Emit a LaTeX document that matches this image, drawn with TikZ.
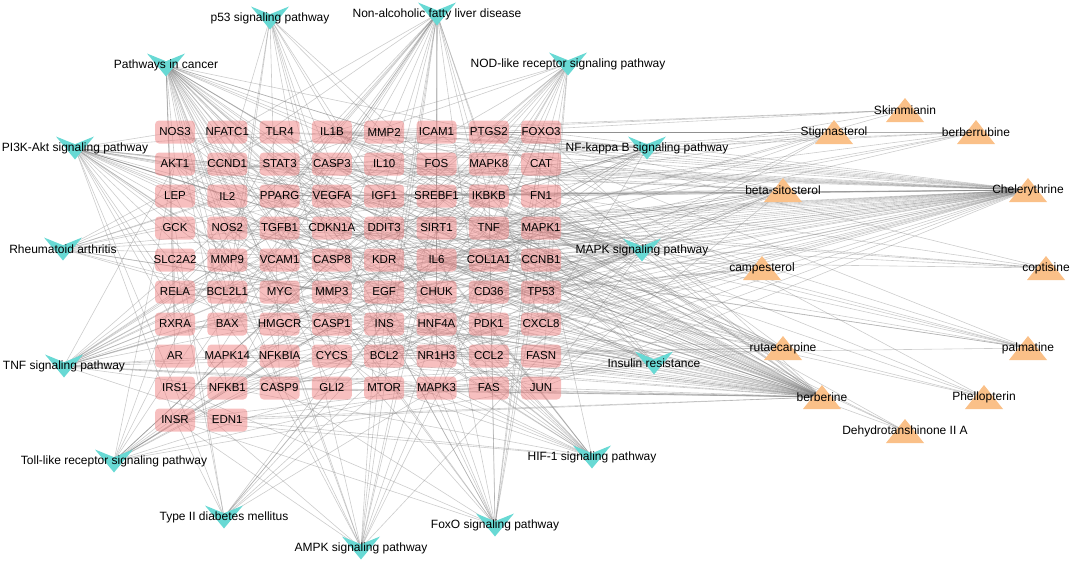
\documentclass[tikz,border=0pt]{standalone}
\usepackage{fontspec}
\setmainfont{Liberation Sans}
\usetikzlibrary{positioning}
\definecolor{genepink}{RGB}{240,128,128}
\definecolor{veecyan}{RGB}{104,217,212}
\definecolor{triorange}{RGB}{250,192,136}
\pgfdeclarelayer{edges}
\pgfdeclarelayer{marks}
\pgfsetlayers{edges,marks,main}

\begin{document}
\begin{tikzpicture}[x=1pt,y=-1pt,
    gene/.style={rectangle,rounded corners=4pt,fill=genepink,fill opacity=0.5,text opacity=1,
                 minimum width=40pt,minimum height=23pt,inner xsep=5pt,inner ysep=0pt,
                 font=\fontsize{11.5}{13}\selectfont},
    pathway/.style={inner sep=1pt,font=\fontsize{12}{14}\selectfont},
    compound/.style={inner sep=1pt,font=\fontsize{12}{14}\selectfont},
    vee/.style={fill=veecyan},
    tri/.style={fill=triorange},
    link/.style={draw=black!50,draw opacity=0.4,line width=0.6pt}
  ]
  \useasboundingbox (0,0) rectangle (1072,563);

  % targets
  \foreach \row [count=\r from 0] in {
      {NOS3,NFATC1,TLR4,IL1B,MMP2,ICAM1,PTGS2,FOXO3},
      {AKT1,CCND1,STAT3,CASP3,IL10,FOS,MAPK8,CAT},
      {LEP,IL2,PPARG,VEGFA,IGF1,SREBF1,IKBKB,FN1},
      {GCK,NOS2,TGFB1,CDKN1A,DDIT3,SIRT1,TNF,MAPK1},
      {SLC2A2,MMP9,VCAM1,CASP8,KDR,IL6,COL1A1,CCNB1},
      {RELA,BCL2L1,MYC,MMP3,EGF,CHUK,CD36,TP53},
      {RXRA,BAX,HMGCR,CASP1,INS,HNF4A,PDK1,CXCL8},
      {AR,MAPK14,NFKBIA,CYCS,BCL2,NR1H3,CCL2,FASN},
      {IRS1,NFKB1,CASP9,GLI2,MTOR,MAPK3,FAS,JUN},
      {INSR,EDN1}}
    \foreach \g [count=\c from 0] in \row
      \node[gene] (\g) at ({175+52.3*\c},{132+32*\r}) {\makebox[30pt]{\g}};

  % pathways
  \node[pathway] (p53)     at (270,18)  {p53 signaling pathway};
  \node[pathway] (nafld)   at (437,14)  {Non-alcoholic fatty liver disease};
  \node[pathway] (pic)     at (166,65)  {Pathways in cancer};
  \node[pathway] (nod)     at (568,64)  {NOD-like receptor signaling pathway};
  \node[pathway] (pi3k)    at (75,148)  {PI3K-Akt signaling pathway};
  \node[pathway] (nfkb)    at (647,148) {NF-kappa B signaling pathway};
  \node[pathway] (ra)      at (63,249)  {Rheumatoid arthritis};
  \node[pathway] (mapkp)   at (642,250) {MAPK signaling pathway};
  \node[pathway] (tnfp)    at (64,366)  {TNF signaling pathway};
  \node[pathway] (insres)  at (654,363) {Insulin resistance};
  \node[pathway] (tlr)     at (114,461) {Toll-like receptor signaling pathway};
  \node[pathway] (hif)     at (592,457) {HIF-1 signaling pathway};
  \node[pathway] (t2dm)    at (224,517) {Type II diabetes mellitus};
  \node[pathway] (foxo)    at (495,525) {FoxO signaling pathway};
  \node[pathway] (ampk)    at (361,548) {AMPK signaling pathway};

  % compounds
  \node[compound] (skim)  at (905,110)  {Skimmianin};
  \node[compound] (stig)  at (834,132)  {Stigmasterol};
  \node[compound] (berru) at (976,132)  {berberrubine};
  \node[compound] (bsito) at (783,190)  {beta-sitosterol};
  \node[compound] (chel)  at (1028,190) {Chelerythrine};
  \node[compound] (camp)  at (762,268)  {campesterol};
  \node[compound] (copt)  at (1046,268) {coptisine};
  \node[compound] (ruta)  at (783,348)  {rutaecarpine};
  \node[compound] (palm)  at (1028,348) {palmatine};
  \node[compound] (berb)  at (822,397)  {berberine};
  \node[compound] (phel)  at (984,397)  {Phellopterin};
  \node[compound] (dehy)  at (905,431)  {Dehydrotanshinone II A};

  % shapes under the labels
  \begin{pgfonlayer}{marks}
  \foreach \n in {p53,nafld,pic,nod,pi3k,nfkb,ra,mapkp,tnfp,insres,tlr,hif,t2dm,foxo,ampk}
    \fill[vee] ([shift={(-19pt,11.5pt)}]\n.center) -- ([shift={(0pt,3.8pt)}]\n.center)
      -- ([shift={(19pt,11.5pt)}]\n.center) -- ([shift={(0pt,-11.5pt)}]\n.center) -- cycle;
  \foreach \n in {skim,stig,berru,bsito,chel,camp,copt,ruta,palm,berb,phel,dehy}
    \fill[tri] ([shift={(-19pt,-12pt)}]\n.center) -- ([shift={(0pt,12pt)}]\n.center)
      -- ([shift={(19pt,-12pt)}]\n.center) -- cycle;
  \end{pgfonlayer}

  \begin{pgfonlayer}{edges}
  \foreach \src/\dst in {
      pic/{AKT1,CCND1,STAT3,CASP3,FOS,MAPK8,IKBKB,VEGFA,IGF1,CDKN1A,MAPK1,MMP2,MMP9,CASP8,IL6,PTGS2,RELA,BCL2L1,MYC,EGF,CHUK,TP53,BAX,CXCL8,AR,NFKBIA,CYCS,BCL2,NFKB1,CASP9,GLI2,MTOR,MAPK3,FAS,JUN,TGFB1,RXRA,NOS2,IL2},
      p53/{CCND1,CDKN1A,CASP3,CASP8,CASP9,BAX,CYCS,TP53,FAS,IGF1,CCNB1,BCL2L1,BCL2},
      nafld/{AKT1,CASP3,IL1B,TNF,IL6,MAPK8,IKBKB,SREBF1,DDIT3,PPARG,LEP,INS,INSR,IRS1,CASP8,BAX,CYCS,BCL2,NFKB1,RELA,CHUK,CXCL8,FAS,TGFB1,MTOR,NR1H3,RXRA},
      nod/{IL1B,TNF,IL6,CXCL8,CCL2,NFKBIA,NFKB1,RELA,IKBKB,CHUK,MAPK8,MAPK14,MAPK1,MAPK3,CASP1,CASP8,JUN,STAT3},
      pi3k/{AKT1,CCND1,IL2,IGF1,VEGFA,EGF,KDR,FN1,COL1A1,IL6,MYC,TP53,BCL2L1,BCL2,CDKN1A,CHUK,IKBKB,RELA,NFKB1,INS,INSR,IRS1,MTOR,PDK1,MAPK1,MAPK3,NOS3,TLR4,RXRA,CASP9},
      nfkb/{TNF,IL1B,CXCL8,TLR4,PTGS2,ICAM1,VCAM1,BCL2,BCL2L1,CHUK,IKBKB,NFKBIA,NFKB1,RELA},
      ra/{IL1B,TNF,IL6,CXCL8,CCL2,TGFB1,VEGFA,MMP3,ICAM1,TLR4,JUN,FOS,IL2},
      mapkp/{MAPK1,MAPK3,MAPK8,MAPK14,JUN,FOS,TNF,IL1B,TGFB1,EGF,VEGFA,KDR,IGF1,INS,INSR,AKT1,CASP3,MYC,TP53,FAS,NFKB1,RELA,CHUK,IKBKB,DDIT3},
      tnfp/{TNF,IL1B,IL6,CCL2,MMP3,MMP9,ICAM1,VCAM1,PTGS2,JUN,FOS,MAPK1,MAPK3,MAPK8,MAPK14,AKT1,CASP3,CASP8,RELA,NFKBIA,IKBKB,CHUK,EDN1,NFKB1,FAS},
      insres/{INS,INSR,IRS1,AKT1,MTOR,SREBF1,TNF,IL6,IKBKB,RELA,MAPK8,NOS3,CD36,SLC2A2,PDK1,STAT3},
      tlr/{TLR4,TNF,IL1B,IL6,CXCL8,NFKBIA,NFKB1,RELA,CHUK,IKBKB,MAPK1,MAPK3,MAPK8,MAPK14,JUN,FOS,AKT1,CASP8},
      t2dm/{INS,INSR,IRS1,SLC2A2,GCK,TNF,IKBKB,MAPK8,MAPK1,MAPK3,MTOR},
      ampk/{AKT1,CCND1,SREBF1,PPARG,LEP,IGF1,INS,INSR,IRS1,MTOR,SIRT1,FASN,HMGCR,CD36,HNF4A,FOXO3},
      foxo/{FOXO3,AKT1,CCND1,CDKN1A,SIRT1,CAT,IGF1,INS,INSR,IRS1,TGFB1,MAPK1,MAPK3,MAPK8,MAPK14,IKBKB,CCNB1,EGF},
      hif/{VEGFA,NOS2,NOS3,EDN1,AKT1,MTOR,IGF1,INS,INSR,TLR4,IL6,STAT3,EGF,MAPK1,MAPK3,CDKN1A,BCL2,RELA,NFKB1,PDK1},
      chel/{NOS3,TLR4,IL1B,MMP2,ICAM1,PTGS2,FOXO3,AKT1,STAT3,CASP3,IL10,FOS,MAPK8,CAT,IL2,PPARG,VEGFA,IGF1,IKBKB,FN1,NOS2,TGFB1,CDKN1A,DDIT3,SIRT1,TNF,MAPK1,MMP9,VCAM1,CASP8,KDR,IL6,CCNB1,RELA,BCL2L1,MYC,MMP3,EGF,CHUK,TP53,BAX,CASP1,CXCL8,MAPK14,NFKBIA,CYCS,BCL2,CCL2,NFKB1,CASP9,MAPK3,FAS,JUN},
      berb/{NOS3,NFATC1,TLR4,IL1B,MMP2,ICAM1,PTGS2,FOXO3,AKT1,CCND1,STAT3,CASP3,IL10,MAPK8,CAT,LEP,PPARG,VEGFA,IGF1,SREBF1,FN1,GCK,NOS2,TGFB1,CDKN1A,SIRT1,TNF,MAPK1,SLC2A2,MMP9,VCAM1,IL6,COL1A1,RELA,BCL2L1,MYC,EGF,CD36,TP53,RXRA,BAX,HMGCR,INS,HNF4A,PDK1,CXCL8,MAPK14,NFKBIA,BCL2,NR1H3,CCL2,FASN,IRS1,NFKB1,CASP9,MTOR,MAPK3,JUN,INSR,EDN1},
      bsito/{PTGS2,BCL2,BAX,CASP3,CASP8,CASP9,TNF,IL6,PPARG,JUN,MAPK1,HMGCR,CD36,NR1H3,SREBF1,CCND1,IL1B,TP53,MYC,AKT1},
      stig/{PTGS2,CASP3,BCL2,PPARG,SREBF1,HMGCR,NR1H3,IL1B,TNF},
      berru/{FOXO3,PTGS2,TNF,IL6,AKT1,CASP3,NOS2,SIRT1},
      skim/{PTGS2,IL1B,TNF,NOS2,MMP2},
      camp/{HMGCR,NR1H3,SREBF1,PPARG,CD36,RXRA,BCL2},
      copt/{TNF,IL6,MAPK1,NOS2,CASP3,PTGS2},
      ruta/{PTGS2,TNF,IL6,NOS2,NOS3,MAPK1,MAPK14,CASP3,BCL2,BAX,IL1B,MMP9,VEGFA,EDN1,AKT1},
      palm/{TNF,IL6,IL1B,NOS2,CASP3,BCL2,PTGS2,MAPK1,CDKN1A},
      phel/{PTGS2,NOS2,TNF,IL1B,IL6},
      dehy/{TNF,MAPK1,IL6,CASP3}}
    \foreach \g in \dst
      \path[link] (\src.center) edge (\g.center);
  \end{pgfonlayer}
\end{tikzpicture}
\end{document}
